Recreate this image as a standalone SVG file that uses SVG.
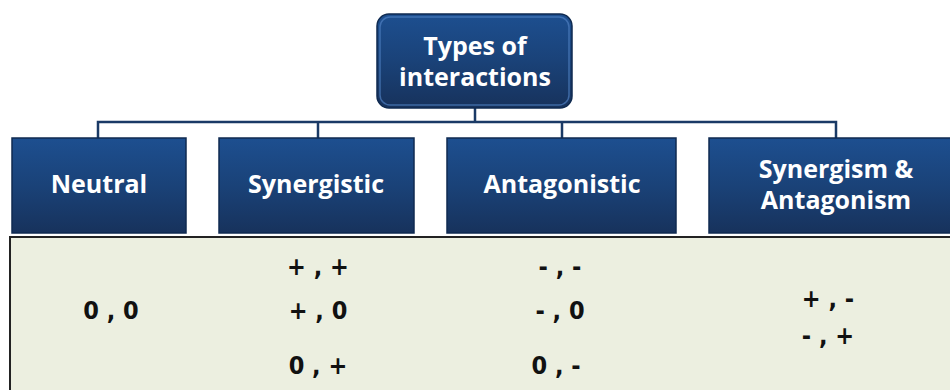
<svg xmlns="http://www.w3.org/2000/svg" width="950" height="390" viewBox="0 0 950 390">
<defs>
<linearGradient id="g" x1="0" y1="0" x2="0" y2="1">
<stop offset="0" stop-color="#1d4f90"/>
<stop offset="0.5" stop-color="#1a4278"/>
<stop offset="1" stop-color="#17325c"/>
</linearGradient>
<style>
.box{fill:url(#g);stroke:#0f2a50;stroke-width:1.5}
.hl{fill:none;stroke:#4f7fc0;stroke-width:1.5;opacity:0.7}
.t{font-family:"Open Sans","Liberation Sans",sans-serif;font-weight:bold;font-size:25px;fill:#ffffff;text-anchor:middle}
.v{font-family:"DejaVu Sans Condensed","Liberation Sans",sans-serif;font-stretch:condensed;font-weight:bold;font-size:25px;fill:#111111;text-anchor:middle}
.c{fill:none;stroke:#1a3a66;stroke-width:2.5}
</style>
</defs>
<rect x="0" y="0" width="950" height="390" fill="#ffffff"/>
<rect x="10" y="237" width="945" height="160" fill="#ecefe0" stroke="#222" stroke-width="2"/>
<g id="connectors">
<path class="c" d="M475 108 V122 M98 138 V122 H836 V138 M318 122 V138 M562 122 V138"/>
</g>
<g id="root">
<rect class="box" x="377" y="14" width="195" height="94" rx="12"/>
<rect class="hl" x="380" y="17" width="189" height="88" rx="10"/>
<text class="t" x="475" y="55">Types of</text>
<text class="t" x="475" y="86">interactions</text>
</g>
<g id="neutral">
<rect class="box" x="12" y="138" width="174" height="95"/>
<text class="t" x="99" y="193">Neutral</text>
</g>
<g id="synergistic">
<rect class="box" x="219" y="138" width="195" height="95"/>
<text class="t" x="316" y="193">Synergistic</text>
</g>
<g id="antagonistic">
<rect class="box" x="447" y="138" width="229" height="95"/>
<text class="t" x="562" y="193">Antagonistic</text>
</g>
<g id="synant">
<rect class="box" x="709" y="138" width="250" height="95"/>
<text class="t" x="836" y="178">Synergism &amp;</text>
<text class="t" x="836" y="209">Antagonism</text>
</g>
<g id="values">
<text class="v" x="111" y="319">0 , 0</text>
<text class="v" x="318" y="275">+ , +</text>
<text class="v" x="318" y="319">+ , 0</text>
<text class="v" x="318" y="374">0 , +</text>
<text class="v" x="560" y="275">- , -</text>
<text class="v" x="560" y="319">- , 0</text>
<text class="v" x="556" y="374">0 , -</text>
<text class="v" x="828" y="307">+ , -</text>
<text class="v" x="828" y="344">- , +</text>
</g>
</svg>
